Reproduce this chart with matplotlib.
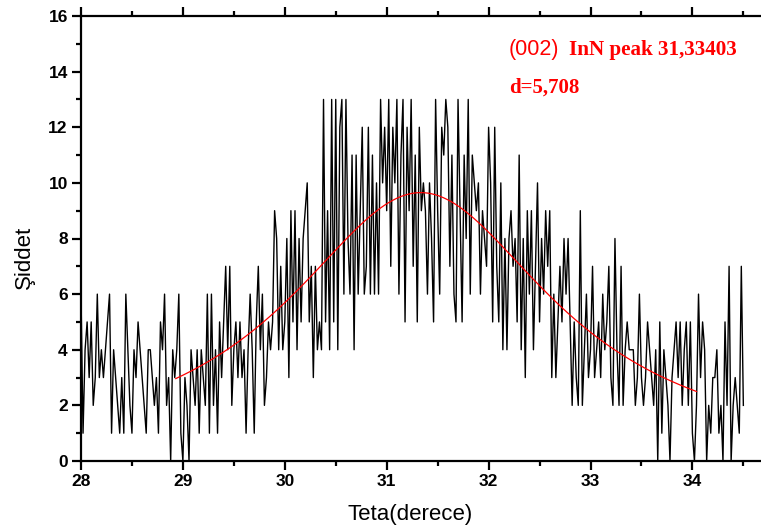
import numpy as np
import matplotlib
matplotlib.use("Agg")
import matplotlib.pyplot as plt
from matplotlib.ticker import MultipleLocator

# Measured counts on a 0.02 degree grid starting at 28.00 degrees
theta_start = 28.0
theta_step = 0.02

counts_2800 = [6, 1, 4, 5, 3, 5, 2, 3, 6, 3, 4, 3, 4, 5, 6, 1, 4, 3, 2, 1, 3, 1, 6, 4, 2]
counts_2850 = [1, 4, 3, 5, 4, 3, 2, 1, 4, 4, 3, 2, 3, 1, 5, 4, 6, 2, 3, 0, 4, 3, 4, 6, 1]
counts_2900 = [0, 3, 2, 0, 4, 3, 2, 4, 1, 4, 3, 2, 6, 1, 6, 2, 4, 1, 5, 3, 5, 7, 4, 7, 2]
counts_2950 = [4, 5, 3, 5, 3, 4, 1, 4, 6, 4, 1, 5, 7, 4, 6, 2, 3, 5, 4, 5, 9, 8, 4, 7, 4]
counts_3000 = [5, 8, 3, 9, 5, 9, 4, 8, 5, 8, 9, 10, 5, 7, 3, 7, 4, 5, 4, 13, 5, 9, 4, 13, 5]
counts_3050 = [13, 4, 12, 13, 6, 13, 8, 6, 11, 4, 11, 6, 9, 12, 6, 7, 12, 6, 11, 6, 10, 6, 13, 10, 12]
counts_3100 = [9, 13, 7, 12, 10, 13, 6, 11, 13, 5, 12, 9, 13, 7, 11, 5, 12, 9, 10, 9, 6, 10, 8, 5, 13]
counts_3150 = [9, 6, 12, 11, 13, 12, 7, 11, 6, 5, 13, 9, 5, 11, 8, 13, 6, 11, 10, 9, 10, 6, 9, 8, 7]
counts_3200 = [12, 10, 5, 12, 7, 5, 10, 4, 8, 4, 8, 9, 7, 8, 5, 11, 4, 8, 3, 9, 6, 9, 4, 7, 10]
counts_3250 = [5, 8, 6, 9, 7, 9, 3, 6, 3, 5, 7, 5, 8, 6, 8, 5, 2, 5, 3, 2, 9, 2, 4, 6, 3]
counts_3300 = [4, 7, 3, 4, 5, 3, 6, 4, 5, 7, 3, 2, 8, 4, 2, 7, 2, 4, 5, 4, 4, 4, 2, 3, 6]
counts_3350 = [3, 2, 3, 5, 4, 3, 2, 4, 0, 5, 1, 4, 3, 2, 0, 3, 4, 5, 3, 5, 2, 4, 5, 2, 5]
counts_3400 = [1, 0, 2, 6, 3, 5, 4, 0, 2, 1, 3, 3, 4, 1, 2, 0, 5, 2, 7, 0, 2, 3, 2, 1, 7, 2]

# Lorentzian fit of the (002) InN reflection
fit_center = 31.33403
fit_height = 9.65
fit_hwhm = 1.6
fit_offset = 0.0
fit_start, fit_stop = 28.93, 34.04

intensity = np.array(counts_2800 + counts_2850 + counts_2900 + counts_2950 + counts_3000
                     + counts_3050 + counts_3100 + counts_3150 + counts_3200 + counts_3250
                     + counts_3300 + counts_3350 + counts_3400, dtype=float)
theta = theta_start + theta_step * np.arange(len(intensity))

fit_x = np.linspace(fit_start, fit_stop, 400)
fit_y = fit_offset + fit_height / (1.0 + ((fit_x - fit_center) / fit_hwhm) ** 2)

tick_font = ["Liberation Sans Narrow", "Liberation Sans", "DejaVu Sans"]

fig = plt.figure(figsize=(7.61, 5.29), dpi=100)
ax = fig.add_axes([81 / 761, 1 - 461 / 529, 685 / 761, 445 / 529])

ax.plot(theta, intensity, color="black", lw=1.0)
ax.plot(fit_x, fit_y, color="red", lw=0.9)

ax.set_xlim(28.0, 28.0 + 685 / 101.9)
ax.set_ylim(0, 16)
ax.xaxis.set_major_locator(MultipleLocator(1))
ax.xaxis.set_minor_locator(MultipleLocator(0.5))
ax.yaxis.set_major_locator(MultipleLocator(2))
ax.yaxis.set_minor_locator(MultipleLocator(1))

for side in ("left", "bottom", "top", "right"):
    ax.spines[side].set_linewidth(1.6)

ax.tick_params(which="both", direction="out", top=True, right=False, width=1.6)
ax.tick_params(which="major", length=6.5, pad=3)
ax.tick_params(which="minor", length=3.5)

for lab in ax.get_xticklabels() + ax.get_yticklabels():
    lab.set_family(tick_font)
    lab.set_fontweight("bold")
    lab.set_fontsize(12.5)

ax.set_xlabel("Teta(derece)", family=tick_font, fontsize=16)
ax.xaxis.set_label_coords(0.48, -0.097)
ax.set_ylabel("Şiddet", family=tick_font, fontsize=16)
ax.yaxis.set_label_coords(-0.067, 0.458)

ax.text(0.624, 0.912, "(002)", transform=ax.transAxes, color="red",
        family=["Liberation Sans", "DejaVu Sans"], fontsize=15.5, va="baseline")
ax.text(0.712, 0.912, "InN peak 31,33403", transform=ax.transAxes, color="red",
        family=["Liberation Serif", "DejaVu Serif"], fontweight="bold", fontsize=15.2,
        va="baseline")
ax.text(0.625, 0.8276, "d=5,708", transform=ax.transAxes, color="red",
        family=["Liberation Serif", "DejaVu Serif"], fontweight="bold", fontsize=15,
        va="baseline")

fig.savefig("out.png", dpi=100)
